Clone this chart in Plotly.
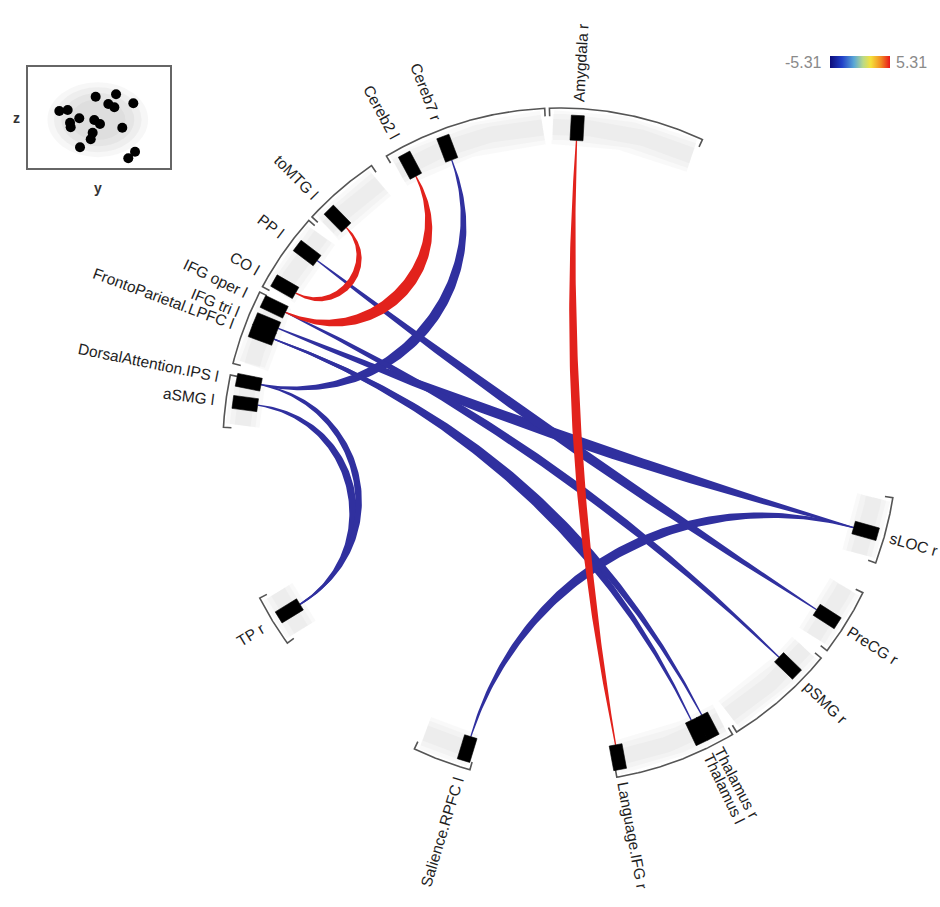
import numpy as np
import plotly.graph_objects as go

# ---------------- data ----------------
# ROIs around the ring (angle in degrees, counter-clockwise from 3 o'clock)
node_names = ["Amygdala r", "Cereb7 r", "Cereb2 l", "toMTG l", "PP l", "CO l",
              "IFG oper l", "IFG tri l", "FrontoParietal.LPFC l",
              "DorsalAttention.IPS l", "aSMG l", "TP r", "Salience.RPFC l",
              "Language.IFG r", "Thalamus l", "Thalamus r", "pSMG r", "PreCG r", "sLOC r"]
node_angle = [86.9, 110.8, 118.2, 134.5, 142.8, 150.1,
              154.2, 157.5, 159.7,
              168.6, 172.5, 211.5, 253.0,
              280.5, 295.5, 297.7, 315.9, 327.3, 344.3]

# bracketed ROI groups (start / end angle)
group_start = [65.0, 92.6, 124.0, 138.2, 153.0, 168.0, 207.0, 244.4, 279.7, 301.6, 322.4, 339.5]
group_end   = [91.8, 121.0, 137.4, 152.0, 166.0, 177.0, 216.0, 254.5, 300.8, 320.8, 334.0, 351.0]

# significant connections (T statistic)
link_src = ["Amygdala r", "toMTG l", "Cereb2 l", "Cereb7 r", "DorsalAttention.IPS l", "aSMG l",
            "Salience.RPFC l", "PP l", "IFG oper l", "FrontoParietal.LPFC l",
            "FrontoParietal.LPFC l", "IFG tri l"]
link_dst = ["Language.IFG r", "CO l", "IFG oper l", "DorsalAttention.IPS l", "TP r", "TP r",
            "sLOC r", "PreCG r", "pSMG r", "Thalamus l", "Thalamus r", "sLOC r"]
link_t = [4.0, 3.0, 5.31, -4.6, -3.0, -3.4, -4.2, -4.4, -3.8, -3.7, -3.7, -4.9]

T_MIN, T_MAX = -5.31, 5.31

# ROI centroids in the glass-brain inset (y, z in mm)
inset_y = [-16.6, 8.5, 29.8, -1.0, 6.4, -61.4, -51.1, -36.8, -48.2, -47.4, -18.3, -11.3,
           16.2, -20.3, -22.7, -35.9, 31.9, 23.6]
inset_z = [43.8, 47.2, 34.7, 33.7, 29.1, 24.0, 25.4, 13.9, 7.8, 1.4, 11.5, 6.0,
           0.9, -6.1, -15.2, -26.3, -32.4, -41.5]

# ---------------- layout constants ----------------
W, H = 940, 907
CX, CY = 560, 445          # ring centre in pixels
SCALE = 318.0              # pixels per ring-radius unit
R_BOX_IN, R_BOX_OUT = 305 / SCALE, 330 / SCALE
R_BRACKET, R_HOOK = 337 / SCALE, 329 / SCALE
R_HALO = 318 / SCALE
R_LABEL_RIGHT = 343 / SCALE
R_LABEL_LEFT = 348 / SCALE
BOX_HALF = 6.5 / SCALE
LABEL_SIZE = 15.5
BEND = 1.02                # how strongly links bow toward the centre
FONT = "Liberation Sans, Arial, Helvetica, sans-serif"

NEG_COLOR = "#30309f"
POS_COLOR = "#e2221c"
COLORSCALE = [[0.0, "#0c0c7a"], [0.2, "#2140c8"], [0.4, "#5aa7d6"], [0.55, "#b8d98a"],
              [0.68, "#f5e13a"], [0.85, "#f28a22"], [1.0, "#e8161b"]]

# Helvetica/Arial advance widths (1/1000 em) for label length estimates
_CW = dict(zip("abcdefghijklmnopqrstuvwxyz",
               [556, 556, 500, 556, 556, 278, 556, 556, 222, 222, 500, 222, 833,
                556, 556, 556, 556, 333, 500, 278, 556, 500, 722, 500, 500, 500]))
_CW.update(dict(zip("ABCDEFGHIJKLMNOPQRSTUVWXYZ",
                    [667, 667, 722, 722, 667, 611, 778, 722, 278, 500, 667, 556, 833,
                     722, 778, 667, 778, 722, 667, 611, 722, 667, 944, 667, 667, 611])))
_CW.update({" ": 278, ".": 278, "-": 333})
for _d in "0123456789":
    _CW[_d] = 556


def text_px(s, size):
    return sum(_CW.get(c, 556) for c in s) / 1000.0 * size


def polar(r, deg):
    a = np.deg2rad(deg)
    return r * np.cos(a), r * np.sin(a)


fig = go.Figure()

# soft grey halo behind each ROI group
for a0, a1 in zip(group_start, group_end):
    aa = np.linspace(a0 + 0.5, a1 - 0.5, 60)
    hx, hy = polar(R_HALO, aa)
    for width, col in [(34, "rgba(150,150,150,0.06)"), (26, "rgba(150,150,150,0.06)"),
                       (16, "rgba(150,150,150,0.06)")]:
        fig.add_trace(go.Scatter(x=hx, y=hy, mode="lines", hoverinfo="skip",
                                 line=dict(color=col, width=width), showlegend=False))

# group brackets: arc with inward hooks at both ends
for a0, a1 in zip(group_start, group_end):
    aa = np.linspace(a0, a1, 80)
    bx, by = polar(R_BRACKET, aa)
    sx, sy = polar(R_HOOK, a0)
    ex, ey = polar(R_HOOK, a1)
    xs = np.concatenate([[sx], bx, [ex]])
    ys = np.concatenate([[sy], by, [ey]])
    fig.add_trace(go.Scatter(x=xs, y=ys, mode="lines", hoverinfo="skip",
                             line=dict(color="#555555", width=1.6), showlegend=False))

# connections: tapered cubic Bezier ribbons bending toward the ring centre
idx = {n: i for i, n in enumerate(node_names)}
order = sorted(range(len(link_t)), key=lambda i: link_t[i])  # negatives first, positives on top
mid_x, mid_y = [], []
for i in order:
    s, d, t = link_src[i], link_dst[i], link_t[i]
    a0, a1 = node_angle[idx[s]], node_angle[idx[d]]
    p0 = np.array(polar(R_BOX_IN, a0))
    p3 = np.array(polar(R_BOX_IN, a1))
    dth = abs((a1 - a0 + 180) % 360 - 180)
    sh = np.sin(np.deg2rad(dth) / 2)
    k = (BEND * sh / (1 + sh)) / 0.75
    p1 = p0 * (1 - k)
    p2 = p3 * (1 - k)
    tt = np.linspace(0, 1, 120)[:, None]
    B = ((1 - tt) ** 3) * p0 + 3 * ((1 - tt) ** 2) * tt * p1 + 3 * (1 - tt) * tt ** 2 * p2 + tt ** 3 * p3
    dB = 3 * (1 - tt) ** 2 * (p1 - p0) + 6 * (1 - tt) * tt * (p2 - p1) + 3 * tt ** 2 * (p3 - p2)
    nrm = np.column_stack([-dB[:, 1], dB[:, 0]])
    nrm /= np.linalg.norm(nrm, axis=1, keepdims=True)
    wmax = 2.2 * abs(t)
    w = (1.3 + (wmax - 1.3) * np.sin(np.pi * tt[:, 0])) / SCALE / 2
    left = B + nrm * w[:, None]
    right = B - nrm * w[:, None]
    poly = np.vstack([left, right[::-1], left[:1]])
    fig.add_trace(go.Scatter(x=poly[:, 0], y=poly[:, 1], mode="lines", fill="toself",
                             fillcolor=NEG_COLOR if t < 0 else POS_COLOR,
                             line=dict(width=0), hoverinfo="text",
                             text=f"{s} - {d}: T={t}", showlegend=False))
    mid_x.append(B[60, 0])
    mid_y.append(B[60, 1])

# ROI boxes (radially oriented rectangles)
for a in node_angle:
    u = np.array(polar(1.0, a))
    v = np.array([-u[1], u[0]])
    corners = [R_BOX_IN * u - BOX_HALF * v, R_BOX_OUT * u - BOX_HALF * v,
               R_BOX_OUT * u + BOX_HALF * v, R_BOX_IN * u + BOX_HALF * v,
               R_BOX_IN * u - BOX_HALF * v]
    fig.add_trace(go.Scatter(x=[c[0] for c in corners], y=[c[1] for c in corners],
                             mode="lines", fill="toself", fillcolor="black",
                             line=dict(color="black", width=0.6), hoverinfo="skip",
                             showlegend=False))

# colour scale carrier
fig.add_trace(go.Scatter(
    x=mid_x, y=mid_y, mode="markers", hoverinfo="skip", showlegend=False,
    marker=dict(size=1, opacity=0, color=[link_t[i] for i in order], colorscale=COLORSCALE,
                cmin=T_MIN, cmax=T_MAX, showscale=True,
                colorbar=dict(orientation="h", x=860 / W, xanchor="center",
                              y=1 - 62.5 / H, yanchor="middle", len=60, lenmode="pixels",
                              thickness=12, thicknessmode="pixels", outlinewidth=0,
                              showticklabels=False, ticks="", xpad=0, ypad=0))))

# radial ROI labels
annotations = []
for name, a in zip(node_names, node_angle):
    a = a % 360
    wpx = text_px(name, LABEL_SIZE)
    if 90 < a < 270:
        ta = 180 - a
        r = R_LABEL_LEFT + (wpx / 2) / SCALE
    else:
        ta = (-a + 180) % 360 - 180
        r = R_LABEL_RIGHT + (wpx / 2) / SCALE
    x, y = polar(r, a)
    annotations.append(dict(x=x, y=y, xref="x", yref="y", text=name, showarrow=False,
                            textangle=ta, xanchor="center", yanchor="middle",
                            font=dict(family=FONT, size=LABEL_SIZE, color="#1e1e1e")))

# colour bar end labels
annotations.append(dict(x=824 / W, y=1 - 62 / H, xref="paper", yref="paper", text=f"{T_MIN:.2f}",
                        showarrow=False, xanchor="right", yanchor="middle",
                        font=dict(family=FONT, size=16, color="#8a8a8a")))
annotations.append(dict(x=894 / W, y=1 - 62 / H, xref="paper", yref="paper", text=f"{T_MAX:.2f}",
                        showarrow=False, xanchor="left", yanchor="middle",
                        font=dict(family=FONT, size=16, color="#8a8a8a")))

# inset axis letters
annotations.append(dict(x=16 / W, y=1 - 118 / H, xref="paper", yref="paper", text="<b>z</b>",
                        showarrow=False, xanchor="center", yanchor="middle",
                        font=dict(family=FONT, size=14, color="#333")))
annotations.append(dict(x=98 / W, y=1 - 188 / H, xref="paper", yref="paper", text="<b>y</b>",
                        showarrow=False, xanchor="center", yanchor="middle",
                        font=dict(family=FONT, size=14, color="#333")))

# glass-brain inset
shapes = []
for sx_, sz_, op in [(62, 52, 0.07), (54, 45, 0.08), (45, 37, 0.09), (34, 28, 0.08)]:
    shapes.append(dict(type="circle", xref="x2", yref="y2",
                       x0=-14 - sx_, x1=-14 + sx_, y0=12 - sz_, y1=12 + sz_,
                       fillcolor=f"rgba(140,140,140,{op})", line=dict(width=0), layer="below"))
fig.add_trace(go.Scatter(x=inset_y, y=inset_z, xaxis="x2", yaxis="y2", mode="markers",
                         marker=dict(size=10, color="black"), hoverinfo="skip", showlegend=False))

fig.update_layout(
    width=W, height=H, autosize=False,
    margin=dict(l=0, r=0, t=0, b=0),
    paper_bgcolor="white", plot_bgcolor="rgba(0,0,0,0)",
    xaxis=dict(range=[-CX / SCALE, (W - CX) / SCALE], visible=False, domain=[0, 1]),
    yaxis=dict(range=[-(H - CY) / SCALE, CY / SCALE], visible=False, domain=[0, 1]),
    xaxis2=dict(domain=[28 / W, 170 / W], anchor="y2", range=[-100, 75],
                showline=True, mirror=True, linecolor="#666", linewidth=1.5,
                showgrid=False, zeroline=False, showticklabels=False, ticks=""),
    yaxis2=dict(domain=[1 - 168 / H, 1 - 67 / H], anchor="x2", range=[-55, 85],
                showline=True, mirror=True, linecolor="#666", linewidth=1.5,
                showgrid=False, zeroline=False, showticklabels=False, ticks=""),
    annotations=annotations,
    shapes=shapes,
    showlegend=False,
)

fig.write_html("out.html")
